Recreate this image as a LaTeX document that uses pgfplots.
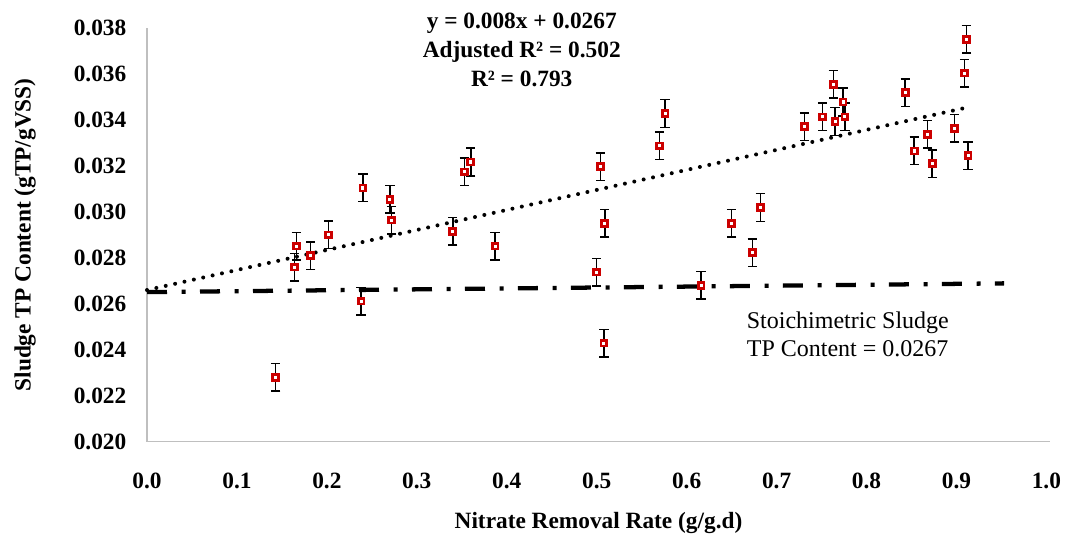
\documentclass[border=0pt]{standalone}
\usepackage{fontspec}
\setmainfont{Liberation Serif}
\usepackage{pgfplots}
\pgfplotsset{compat=1.18}
\definecolor{mkred}{RGB}{204,0,0}
\definecolor{axgray}{RGB}{191,191,191}
\begin{document}
\begin{tikzpicture}
\useasboundingbox (-110.25pt,-75.2pt) rectangle (693pt,331.3pt);
\begin{axis}[
  at={(0,0)}, anchor=south west,
  scale only axis,
  width=677.25pt, height=310.3pt,
  xmin=0, xmax=1.004, ymin=0.020, ymax=0.038,
  xtick={0,0.1,...,1.0},
  ytick={0.020,0.022,...,0.038},
  scaled y ticks=false, scaled x ticks=false,
  axis x line=bottom, axis y line=left,
  axis line style={draw=axgray, line width=0.9pt, -},
  major tick length=0pt,
  /pgf/number format/assume math mode=true,
  ticklabel style={font=\fontsize{17.5}{20}\selectfont\bfseries},
  xticklabel style={/pgf/number format/.cd, fixed, fixed zerofill, precision=1, /tikz/.cd, yshift=-20pt},
  yticklabel style={/pgf/number format/.cd, fixed, fixed zerofill, precision=3, /tikz/.cd, xshift=-12pt},
  xlabel={Nitrate Removal Rate (g/g.d)},
  ylabel={Sludge TP Content (gTP/gVSS)},
  every axis x label/.style={at={([yshift=-61pt]axis description cs:0.5,0)}, anchor=center, font=\fontsize{17.5}{20}\selectfont\bfseries},
  every axis y label/.style={at={([xshift=-91.5pt]axis description cs:0,0.5)}, anchor=center, rotate=90, font=\fontsize{17.5}{20}\selectfont\bfseries},
  clip=false,
]
% trend line (dotted)
\addplot[black, line width=3pt, line cap=round, dash pattern=on 0pt off 7.2pt] coordinates {(0,0.0266) (0.907,0.0345)};
% stoichiometric line (dash-dot)
\addplot[black, line width=3.2pt, dash pattern=on 15pt off 11pt on 3pt off 10.75pt] coordinates {(0,0.02651) (0.953,0.02689)};
% data with error bars
\addplot[only marks, mark=square*, mark size=2.2pt,
  mark options={draw=mkred, fill=white, line width=2.1pt},
  error bars/.cd, y dir=both, y explicit,
  error bar style={black, line width=1.1pt},
  error mark options={rotate=90, mark size=3.5pt, line width=1.1pt, black}]
coordinates {
(0.143,0.02280) +- (0,0.0006)
(0.166,0.02851) +- (0,0.0006)
(0.164,0.02760) +- (0,0.0006)
(0.182,0.02809) +- (0,0.0006)
(0.202,0.02900) +- (0,0.0006)
(0.240,0.03104) +- (0,0.0006)
(0.238,0.02612) +- (0,0.0006)
(0.270,0.03055) +- (0,0.0006)
(0.272,0.02964) +- (0,0.0006)
(0.340,0.02915) +- (0,0.0006)
(0.353,0.03174) +- (0,0.0006)
(0.360,0.03217) +- (0,0.0006)
(0.387,0.02851) +- (0,0.0006)
(0.504,0.03196) +- (0,0.0006)
(0.509,0.02950) +- (0,0.0006)
(0.500,0.02738) +- (0,0.0006)
(0.508,0.02429) +- (0,0.0006)
(0.576,0.03428) +- (0,0.0006)
(0.570,0.03287) +- (0,0.0006)
(0.616,0.02681) +- (0,0.0006)
(0.650,0.02950) +- (0,0.0006)
(0.673,0.02823) +- (0,0.0006)
(0.682,0.03019) +- (0,0.0006)
(0.731,0.03371) +- (0,0.0006)
(0.751,0.03413) +- (0,0.0006)
(0.763,0.03555) +- (0,0.0006)
(0.765,0.03393) +- (0,0.0006)
(0.774,0.03478) +- (0,0.0006)
(0.776,0.03413) +- (0,0.0006)
(0.843,0.03519) +- (0,0.0006)
(0.853,0.03265) +- (0,0.0006)
(0.868,0.03337) +- (0,0.0006)
(0.873,0.03210) +- (0,0.0006)
(0.898,0.03364) +- (0,0.0006)
(0.911,0.03751) +- (0,0.0006)
(0.909,0.03604) +- (0,0.0006)
(0.913,0.03245) +- (0,0.0006)
};
\node[align=center, font=\fontsize{17.5}{21.75}\selectfont\bfseries] at (axis description cs:0.415,0.947)
  {y = 0.008x + 0.0267\\Adjusted R² = 0.502\\R² = 0.793};
\node[align=left, anchor=west, inner sep=0pt, font=\fontsize{18}{21}\selectfont] at (axis description cs:0.664,0.260)
  {Stoichimetric Sludge\\TP Content = 0.0267};
\end{axis}
\end{tikzpicture}
\end{document}
